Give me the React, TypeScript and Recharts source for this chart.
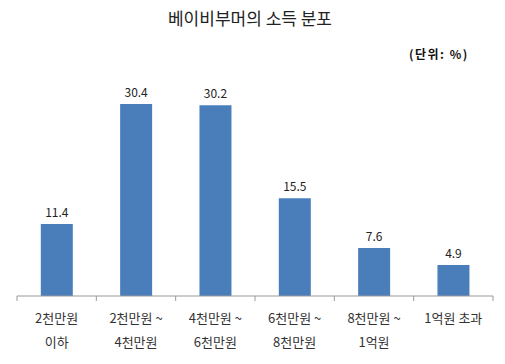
import React from "react";
import { BarChart, Bar, XAxis, YAxis, LabelList } from "recharts";

const title = "베이비부머의 소득 분포";
const unitNote = "(단위: %)";
const categories = [
  "2천만원\n이하",
  "2천만원 ~\n4천만원",
  "4천만원 ~\n6천만원",
  "6천만원 ~\n8천만원",
  "8천만원 ~\n1억원",
  "1억원 초과",
];
const shares = [11.4, 30.4, 30.2, 15.5, 7.6, 4.9];

const data = categories.map((c, i) => ({ name: c, value: shares[i] }));

const FONT = "'Noto Sans CJK KR', 'Noto Sans', sans-serif";

const CatTick = (props: any) => {
  const { x, y, payload, index, width, visibleTicksCount } = props;
  const band = width / visibleTicksCount;
  const lines = String(payload.value).split("\n");
  return (
    <g>
      <line x1={x - band / 2} x2={x - band / 2} y1={y} y2={y + 5} stroke="#999" />
      {index === visibleTicksCount - 1 && (
        <line x1={x + band / 2} x2={x + band / 2} y1={y} y2={y + 5} stroke="#999" />
      )}
      {lines.map((l: string, i: number) => (
        <text
          key={i}
          x={x}
          y={y + 27 + i * 24}
          textAnchor="middle"
          fontSize={13}
          fill="#333"
          fontFamily={FONT}
        >
          {l}
        </text>
      ))}
    </g>
  );
};

export default function App() {
  return (
    <div style={{ position: "absolute", left: 0, top: 0, width: 505, height: 364, background: "#fff", fontFamily: FONT }}>
      <div style={{ position: "absolute", left: 0, width: 500, top: 5, textAlign: "center", fontSize: 17, color: "#222" }}>
        {title}
      </div>
      <div style={{ position: "absolute", left: 409, top: 45, fontSize: 12, fontWeight: "bold", color: "#111", letterSpacing: 1.5 }}>
        {unitNote}
      </div>
      <BarChart
        width={505}
        height={364}
        data={data}
        margin={{ top: 75, right: 12, bottom: 0, left: 17 }}
        barCategoryGap="30%"
      >
        <YAxis hide domain={[0, 35]} />
        <XAxis
          dataKey="name"
          axisLine={{ stroke: "#999" }}
          tickLine={false}
          tickMargin={0}
          tickSize={0}
          height={68}
          interval={0}
          tick={<CatTick />}
        />
        <Bar dataKey="value" fill="#4a7ebb" isAnimationActive={false}>
          <LabelList dataKey="value" position="top" offset={7} fontSize={12} fill="#222" fontFamily={FONT} />
        </Bar>
      </BarChart>
    </div>
  );
}
